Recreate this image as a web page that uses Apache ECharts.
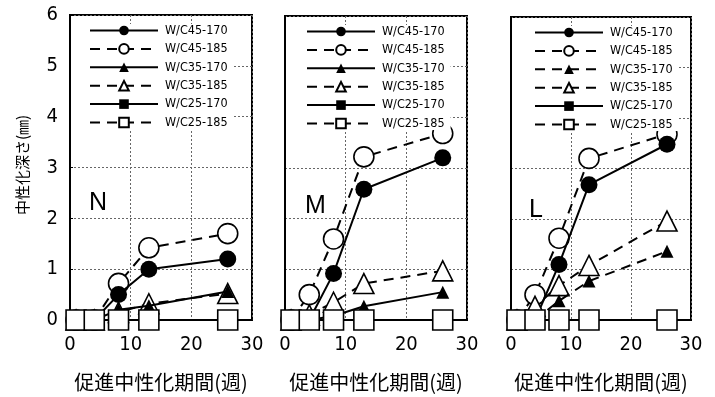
<!DOCTYPE html>
<html>
<head>
<meta charset="utf-8">
<script src="https://cdn.jsdelivr.net/npm/echarts@6/dist/echarts.min.js"></script>
<style>html,body{margin:0;padding:0;background:#fff}#c{width:715px;height:397px}</style>
</head>
<body>
<div id="c"></div>
<script>
// ---- data ----
var weeks = [1, 4, 8, 13, 26];
var seriesNames = ['W/C45-170', 'W/C45-185', 'W/C35-170', 'W/C35-185', 'W/C25-170', 'W/C25-185'];
var panelLabels = ['N', 'M', 'L'];
var yTicks = [0, 1, 2, 3, 4, 5, 6];
var xTicks = [0, 10, 20, 30];
var xAxisTitle = '促進中性化期間(週)';
var yAxisTitle = '中性化深さ(㎜)';

// N
var wc45_170_N = [0, 0, 0.50, 1.00, 1.20];
var wc45_185_N = [0, 0, 0.72, 1.42, 1.70];
var wc35_170_N = [0, 0, 0.20, 0.28, 0.56];
var wc35_185_N = [0, 0, 0.15, 0.32, 0.52];
var wc25_170_N = [0, 0, 0, 0, 0];
var wc25_185_N = [0, 0, 0, 0, 0];
// M
var wc45_170_M = [0, 0, 0.92, 2.58, 3.20];
var wc45_185_M = [0, 0.50, 1.60, 3.22, 3.68];
var wc35_170_M = [0, 0, 0.08, 0.27, 0.55];
var wc35_185_M = [0, 0.10, 0.35, 0.72, 0.97];
var wc25_170_M = [0, 0, 0, 0, 0];
var wc25_185_M = [0, 0, 0, 0, 0];
// L
var wc45_170_L = [0, 0, 1.10, 2.68, 3.48];
var wc45_185_L = [0, 0.50, 1.62, 3.20, 3.68];
var wc35_170_L = [0, 0, 0.38, 0.77, 1.36];
var wc35_185_L = [0, 0.27, 0.68, 1.08, 1.96];
var wc25_170_L = [0, 0, 0, 0, 0];
var wc25_185_L = [0, 0, 0, 0, 0];

var panelData = [
  [wc45_170_N, wc45_185_N, wc35_170_N, wc35_185_N, wc25_170_N, wc25_185_N],
  [wc45_170_M, wc45_185_M, wc35_170_M, wc35_185_M, wc25_170_M, wc25_185_M],
  [wc45_170_L, wc45_185_L, wc35_170_L, wc35_185_L, wc25_170_L, wc25_185_L]
];
// line dash per panel per series (W/C35-170 is dashed in panel L)
var dashed = [
  [false, true, false, true, false, true],
  [false, true, false, true, false, true],
  [false, true, true, true, false, true]
];

// ---- font detection ----
function hasFont(name) {
  var c = document.createElement('canvas').getContext('2d');
  var t = 'W/C45-170 0123456789 mmmwwwiii';
  var res = false;
  ['monospace', 'serif', 'sans-serif'].forEach(function (fb) {
    c.font = '40px ' + fb;
    var w0 = c.measureText(t).width;
    c.font = "40px '" + name + "', " + fb;
    if (Math.abs(c.measureText(t).width - w0) > 0.5) res = true;
  });
  return res;
}
var narrowName = hasFont('Liberation Sans Narrow') ? 'Liberation Sans Narrow'
  : (hasFont('DejaVu Sans Condensed') ? 'DejaVu Sans Condensed' : 'Liberation Sans');
var isNarrow = narrowName !== 'Liberation Sans';
var narrow = "'" + narrowName + "',sans-serif";
var tickFont = isNarrow ? 20 : 18;
var legFont = narrowName === 'Liberation Sans Narrow' ? 13.5 : 12.5;

// ---- styles ----
var grids = [
  {left: 70, top: 15, width: 182, height: 316},
  {left: 285, top: 16, width: 182, height: 316},
  {left: 511, top: 17, width: 180, height: 316}
];
var legendPadLeft = [18, 20, 22];
var labelPos = [[98, 204], [314, 207], [538, 211]];
var DASH = [10, 7];
var sym = [
  {symbol: 'circle', size: 17, fill: '#000'},
  {symbol: 'circle', size: 20, fill: '#fff'},
  {symbol: 'triangle', size: 13, fill: '#000'},
  {symbol: 'triangle', size: 20, fill: '#fff'},
  {symbol: 'rect', size: 19, fill: '#000'},
  {symbol: 'rect', size: 20, fill: '#fff'}
];
// drawing order (later on top)
var drawOrder = [1, 0, 3, 2, 4, 5];

var option = {
  animation: false,
  backgroundColor: '#fff',
  grid: grids.map(function (g) {
    return {left: g.left, top: g.top, width: g.width, height: g.height,
      show: true, borderColor: '#000', borderWidth: 2, backgroundColor: 'transparent'};
  }),
  xAxis: [], yAxis: [], series: [], legend: [], graphic: []
};

for (var p = 0; p < 3; p++) {
  option.xAxis.push({
    type: 'value', gridIndex: p, min: xTicks[0], max: xTicks[xTicks.length - 1], interval: 10,
    axisLine: {show: true, onZero: false, lineStyle: {color: '#000', width: 2}},
    axisTick: {show: false},
    axisLabel: {color: '#000', fontSize: tickFont, fontFamily: narrow, margin: 15, showMaxLabel: true},
    splitLine: {show: true, lineStyle: {color: '#666', width: 1, type: [2, 2]}},
    name: xAxisTitle, nameLocation: 'middle', nameGap: 52,
    nameTextStyle: {color: '#000', fontSize: 20, fontFamily: "'Noto Sans CJK JP',sans-serif"}
  });
  option.yAxis.push({
    type: 'value', gridIndex: p, min: yTicks[0], max: yTicks[yTicks.length - 1], interval: 1,
    axisLine: {show: true, lineStyle: {color: '#000', width: 2}},
    axisTick: {show: p === 0, inside: true, length: 3, lineStyle: {color: '#000'}},
    axisLabel: {show: p === 0, color: '#000', fontSize: tickFont, fontFamily: narrow, margin: 12},
    splitLine: {show: true, lineStyle: {color: '#666', width: 1, type: [2, 2]}}
  });
  var legendNames = [];
  for (var k = 0; k < 6; k++) legendNames.push(panelLabels[p] + ':' + seriesNames[k]);
  for (var oi = 0; oi < 6; oi++) {
    var s = drawOrder[oi];
    var vals = panelData[p][s];
    var pts = weeks.map(function (w, i) { return [w, vals[i]]; });
    var open = sym[s].fill === '#fff';
    option.series.push({
      type: 'line', name: panelLabels[p] + ':' + seriesNames[s],
      xAxisIndex: p, yAxisIndex: p, data: pts, clip: false,
      symbol: sym[s].symbol, symbolSize: sym[s].size, showAllSymbol: true,
      lineStyle: {color: '#000', width: 2, type: dashed[p][s] ? DASH : 'solid'},
      itemStyle: {color: sym[s].fill, borderColor: '#000', borderWidth: open ? 1.6 : 0},
      emphasis: {disabled: true}, z: 2 + oi * 0.01
    });
  }
  option.legend.push({
    data: legendNames, orient: 'vertical', left: grids[p].left + 1, top: grids[p].top + 9,
    itemWidth: 68, itemHeight: 12, itemGap: 5.4, selectedMode: false,
    backgroundColor: '#fff', padding: [0, 6, 0, legendPadLeft[p]],
    formatter: function (n) { return n.split(':')[1]; },
    textStyle: {color: '#000', fontSize: legFont, fontFamily: narrow, padding: [0, 0, 0, 2]},
    z: 3
  });
  option.graphic.push({
    type: 'text', left: labelPos[p][0] - 9, top: labelPos[p][1] - 13,
    style: {text: panelLabels[p], fontSize: 25, fontFamily: "'Liberation Sans',Arial,sans-serif", fill: '#000'},
    z: 10
  });
}
option.graphic.push({
  type: 'text', x: 22, y: 165, rotation: Math.PI / 2,
  style: {text: yAxisTitle, fontSize: 15, fontFamily: "'Noto Sans CJK JP',sans-serif", fill: '#000',
    align: 'center', verticalAlign: 'middle'}
});

var chart = echarts.init(document.getElementById('c'), null, {renderer: 'canvas'});
chart.setOption(option);
</script>
</body>
</html>
